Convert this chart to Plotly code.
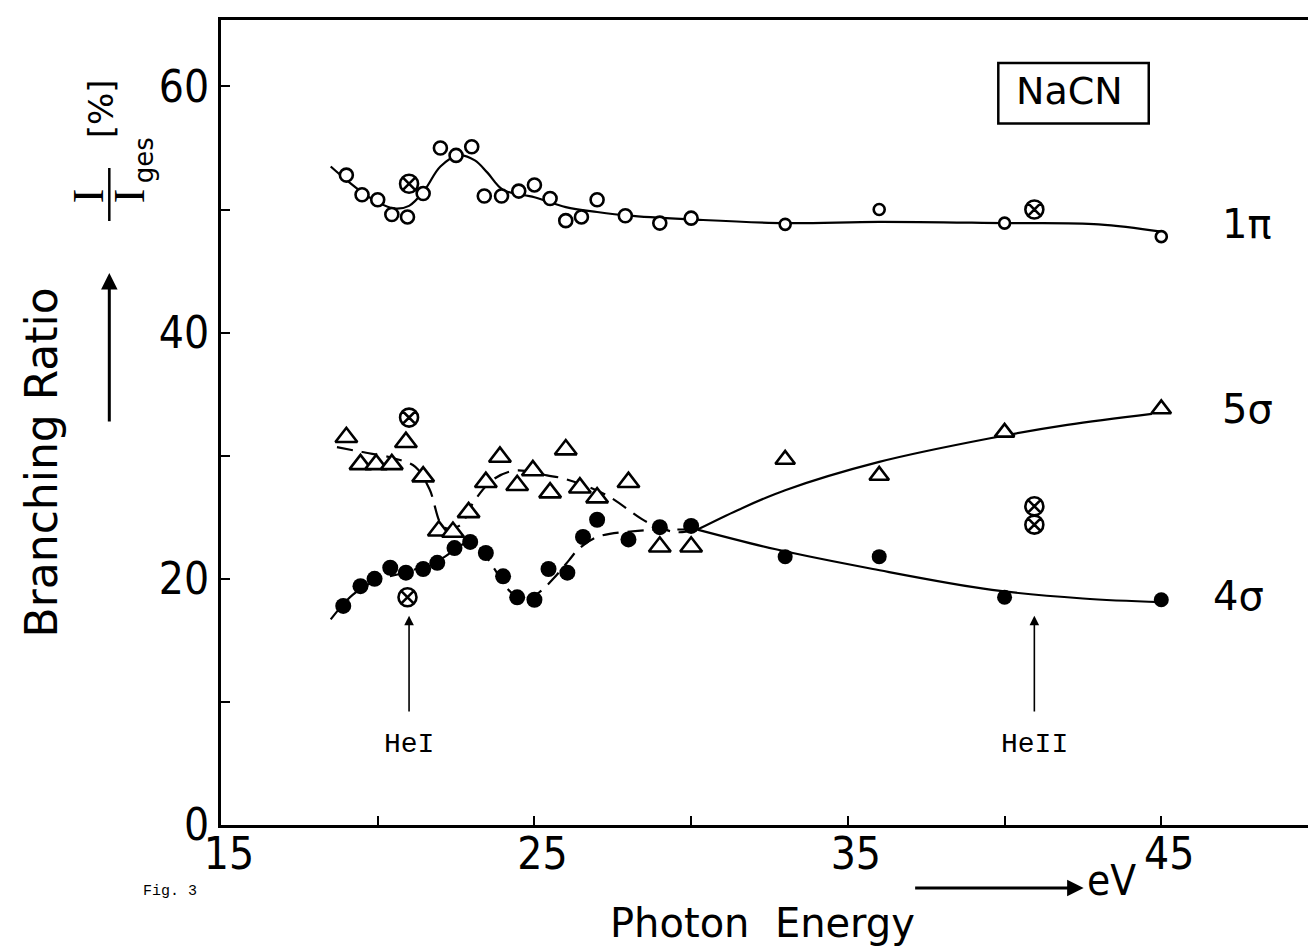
import plotly.graph_objects as go

# ---------------- data ----------------
# 1pi  (open circles)
pi_e = [19.0, 19.5, 20.0, 20.45, 20.95, 21.45, 22.0, 22.5, 23.0, 23.4, 23.95, 24.5,
        25.0, 25.5, 26.0, 26.5, 27.0, 27.9, 29.0, 30.0, 33.0, 36.0, 40.0, 45.0]
pi_v = [52.8, 51.2, 50.8, 49.6, 49.4, 51.3, 55.0, 54.4, 55.1, 51.1, 51.1, 51.5,
        52.0, 50.9, 49.1, 49.4, 50.8, 49.5, 48.9, 49.3, 48.8, 50.0, 48.9, 47.8]
# 5sigma (open triangles)
s5_e = [19.0, 19.45, 19.95, 20.45, 20.9, 21.45, 21.95, 22.4, 22.9, 23.45, 23.9, 24.45,
        24.95, 25.5, 26.0, 26.45, 27.0, 28.0, 29.0, 30.0, 33.0, 36.0, 40.0, 45.0]
s5_v = [31.5, 29.3, 29.3, 29.3, 31.1, 28.3, 23.9, 23.8, 25.4, 27.85, 29.9, 27.6,
        28.8, 27.0, 30.5, 27.4, 26.6, 27.85, 22.6, 22.6, 29.7, 28.4, 31.9, 33.8]
# 4sigma (filled circles)
s4_e = [18.9, 19.45, 19.9, 20.4, 20.9, 21.45, 21.9, 22.45, 22.95, 23.45, 24.0, 24.45,
        25.0, 25.45, 26.05, 26.55, 27.0, 28.0, 29.0, 30.0, 33.0, 36.0, 40.0, 45.0]
s4_v = [17.8, 19.4, 20.0, 20.9, 20.5, 20.8, 21.3, 22.5, 23.0, 22.1, 20.2, 18.5,
        18.3, 20.8, 20.5, 23.4, 24.8, 23.2, 24.2, 24.3, 21.8, 21.8, 18.5, 18.3]
# HeI / HeII lamp measurements (crossed circles)
he_e = [21.0, 21.0, 20.95, 40.95, 40.95, 40.95]
he_v = [52.1, 33.1, 18.5, 50.0, 25.9, 24.4]

# hand-drawn guide curves
pi_fit_e = [18.5, 19.0, 19.5, 20.0, 20.5, 21.0, 21.5, 22.0, 22.6, 23.1, 23.5, 24.0,
            25.0, 26.0, 27.0, 28.0, 30.0, 33.0, 36.0, 40.0, 43.0, 45.0]
pi_fit_v = [53.5, 52.4, 51.4, 50.6, 50.1, 50.3, 51.6, 53.5, 54.4, 54.0, 53.0, 51.6,
            51.0, 50.2, 49.8, 49.5, 49.2, 48.9, 49.0, 48.9, 48.8, 48.2]
s5_fit_lo_e = [18.7, 19.5, 20.5, 21.2, 21.65, 22.1, 22.6, 23.1, 23.7, 24.4, 25.4, 26.0,
               27.3, 28.6, 29.5, 30.2]
s5_fit_lo_v = [30.7, 30.3, 29.8, 29.1, 27.3, 24.2, 24.3, 26.4, 28.1, 28.8, 28.4, 28.1,
               26.8, 24.6, 23.8, 24.0]
s5_fit_hi_e = [30.2, 31.5, 33.0, 36.0, 39.5, 42.0, 44.7]
s5_fit_hi_v = [24.0, 25.6, 27.2, 29.5, 31.4, 32.5, 33.4]
s4_fit_lo_e = [18.5, 19.2, 20.0, 21.0, 22.0, 23.0, 23.7, 24.1, 24.7, 25.2, 25.6, 26.1,
               26.4, 27.0, 28.3, 29.2, 30.2]
s4_fit_lo_v = [16.7, 18.7, 19.9, 20.6, 21.6, 23.0, 20.9, 19.3, 18.2, 19.0, 20.0, 21.5,
               22.4, 23.4, 23.9, 24.0, 24.0]
s4_fit_hi_e = [30.2, 32.7, 35.8, 39.6, 42.5, 45.0]
s4_fit_hi_v = [24.0, 22.4, 20.8, 19.1, 18.4, 18.1]

x_ticks = [15, 20, 25, 30, 35, 40, 45, 50]
x_tick_text = ["15", "", "25", "", "35", "", "45", ""]
y_ticks = [0, 10, 20, 30, 40, 50, 60]
y_tick_text = ["0", "", "20", "", "40", "", "60"]

# ---------------- figure ----------------
INK = "black"
fig = go.Figure()

def curve(xs, ys, dash):
    fig.add_trace(go.Scatter(x=xs, y=ys, mode="lines", line_shape="spline",
                             line=dict(color=INK, width=2.2, dash=dash),
                             hoverinfo="skip", showlegend=False))

curve(pi_fit_e, pi_fit_v, "solid")
curve(s5_fit_lo_e, s5_fit_lo_v, "16px,9px")
curve(s5_fit_hi_e, s5_fit_hi_v, "solid")
curve(s4_fit_lo_e, s4_fit_lo_v, "16px,9px")
curve(s4_fit_hi_e, s4_fit_hi_v, "solid")

def small_if_far(xs, near, far):
    return [near if x < 31 else far for x in xs]

fig.add_trace(go.Scatter(x=pi_e, y=pi_v, mode="markers", name="1π", showlegend=False,
                         marker=dict(symbol="circle", size=small_if_far(pi_e, 13, 11), opacity=1,
                                     color="white", line=dict(color=INK, width=2.6))))
fig.add_trace(go.Scatter(x=s5_e, y=s5_v, mode="markers", name="5σ", showlegend=False,
                         marker=dict(symbol="triangle-up", size=small_if_far(s5_e, 19, 17), opacity=1,
                                     color="white", line=dict(color=INK, width=2.6))))
fig.add_trace(go.Scatter(x=s4_e, y=s4_v, mode="markers", name="4σ", showlegend=False,
                         marker=dict(symbol="circle", size=small_if_far(s4_e, 16, 15), opacity=1,
                                     color=INK, line=dict(color=INK, width=0))))
fig.add_trace(go.Scatter(x=he_e, y=he_v, mode="markers", name="HeI/HeII", showlegend=False,
                         marker=dict(symbol="circle-x", size=18, color="white", opacity=1,
                                     line=dict(color=INK, width=2.6))))

SANS = "DejaVu Sans"
NUM = "Liberation Sans Narrow, DejaVu Sans Condensed, Roboto Condensed, DejaVu Sans"
MONO = "Liberation Mono, DejaVu Sans Mono"
SERIF = "Liberation Serif, DejaVu Serif"

def text(x, y, s, size, family=SANS, ref="paper", angle=0):
    return dict(x=x, y=y, xref=ref, yref=ref, text=s, showarrow=False, textangle=angle,
                xanchor="center", yanchor="middle",
                font=dict(family=family, size=size, color=INK))

ann = []
# curve labels
for s, xx, yy in [("1π", 47.75, 48.8), ("5σ", 47.75, 33.8), ("4σ", 47.45, 18.6)]:
    ann.append(text(xx, yy, s, 40, ref="x"))
    ann[-1]["yref"] = "y"
# NaCN box label
ann.append(text(42.07, 59.6, "NaCN", 38, ref="x")); ann[-1]["yref"] = "y"
# HeI / HeII arrows and labels
for xe, lab in [(21.0, "HeI"), (40.95, "HeII")]:
    ann.append(dict(x=xe, y=17.0, ax=xe, ay=9.1, xref="x", yref="y", axref="x", ayref="y",
                    text="", showarrow=True, arrowhead=2, arrowsize=1.2, arrowwidth=1.6,
                    arrowcolor=INK))
    ann.append(text(xe, 6.5, lab, 28, family=MONO, ref="x")); ann[-1]["yref"] = "y"

# axis titles and decorations (paper coordinates)
L, R, T, B, W, H = 213, 3, 12, 129, 1316, 946
pw, ph = W - L - R, H - T - B
def px(x):
    return (x - L) / pw
def py(y):
    return (H - B - y) / ph

ann.append(text(px(33), py(454), "Branching Ratio", 44, angle=-90))
ann.append(dict(x=px(101), y=py(265), xref="paper", yref="paper", ax=0, ay=150, text="",
                showarrow=True, arrowhead=2, arrowsize=1.1, arrowwidth=3, arrowcolor=INK))
ann.append(text(px(80), py(188), "I", 44, family=SERIF, angle=-90))
ann.append(text(px(121), py(188), "I", 44, family=SERIF, angle=-90))
ann.append(text(px(136), py(152), "ges", 26, angle=-90))
ann.append(text(px(93), py(101), "[%]", 34, angle=-90))
ann.append(text(px(756), py(915), "Photon  Energy", 40))
ann.append(dict(x=px(1078), y=py(880), xref="paper", yref="paper", ax=-170, ay=0, text="",
                showarrow=True, arrowhead=2, arrowsize=1.1, arrowwidth=3, arrowcolor=INK))
ann.append(text(px(1106), py(872), "eV", 42, family=NUM))
ann.append(text(px(162), py(883), "Fig. 3", 15, family=MONO))

shapes = [
    dict(type="rect", xref="x", yref="y", x0=39.8, x1=44.6, y0=57.0, y1=61.9,
         line=dict(color=INK, width=2.5)),
    dict(type="line", xref="paper", yref="paper", x0=px(101), x1=px(101), y0=py(160), y1=py(213),
         line=dict(color=INK, width=2.5)),
]

fig.update_layout(
    width=W, height=H, margin=dict(l=L, r=R, t=T, b=B),
    paper_bgcolor="white", plot_bgcolor="white",
    annotations=ann, shapes=shapes, showlegend=False,
    xaxis=dict(range=[15, 50], tickvals=x_ticks, ticktext=x_tick_text, ticks="inside",
               ticklen=9, tickwidth=2, tickcolor=INK, showgrid=False, zeroline=False,
               showline=True, linecolor=INK, linewidth=3, mirror=True,
               ticklabelshift=8, ticklabelstandoff=-12,
               tickfont=dict(family=NUM, size=44, color=INK)),
    yaxis=dict(range=[0, 65.4], tickvals=y_ticks, ticktext=y_tick_text, ticks="inside",
               ticklen=9, tickwidth=2, tickcolor=INK, showgrid=False, zeroline=False,
               showline=True, linecolor=INK, linewidth=3, mirror=True,
               tickfont=dict(family=NUM, size=44, color=INK)),
)

fig.write_html("out.html")
